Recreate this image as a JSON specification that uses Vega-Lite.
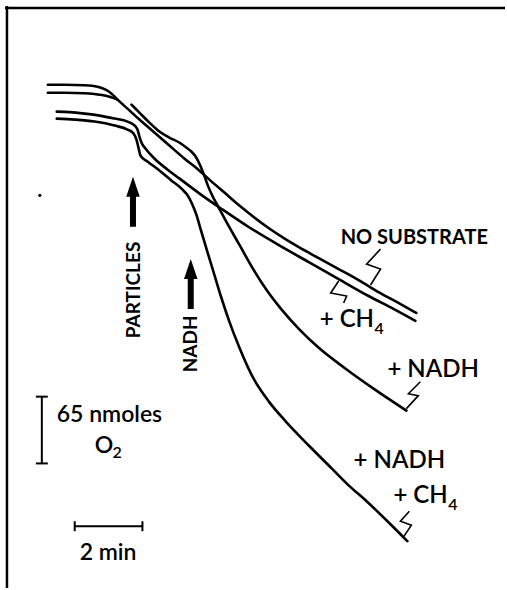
{
  "$schema": "https://vega.github.io/schema/vega-lite/v6.json",
  "width": 507,
  "height": 590,
  "autosize": {"type": "fit", "contains": "padding"},
  "padding": 0,
  "background": "white",
  "config": {"view": {"stroke": null}},
  "datasets": {
    "traces": [
      {"s": "ns", "i": 1, "x": 48, "y": 85}, {"s": "ns", "i": 2, "x": 65, "y": 85}, {"s": "ns", "i": 3, "x": 85, "y": 85.5}, {"s": "ns", "i": 4, "x": 98, "y": 87}, {"s": "ns", "i": 5, "x": 106, "y": 90}, {"s": "ns", "i": 6, "x": 112, "y": 94}, {"s": "ns", "i": 7, "x": 118, "y": 100}, {"s": "ns", "i": 8, "x": 128, "y": 109}, {"s": "ns", "i": 9, "x": 140, "y": 120}, {"s": "ns", "i": 10, "x": 155, "y": 133}, {"s": "ns", "i": 11, "x": 170, "y": 146}, {"s": "ns", "i": 12, "x": 185, "y": 159}, {"s": "ns", "i": 13, "x": 200, "y": 171}, {"s": "ns", "i": 14, "x": 210, "y": 180}, {"s": "ns", "i": 15, "x": 225, "y": 193}, {"s": "ns", "i": 16, "x": 240, "y": 206}, {"s": "ns", "i": 17, "x": 255, "y": 218}, {"s": "ns", "i": 18, "x": 270, "y": 229}, {"s": "ns", "i": 19, "x": 285, "y": 239}, {"s": "ns", "i": 20, "x": 300, "y": 248}, {"s": "ns", "i": 21, "x": 320, "y": 259}, {"s": "ns", "i": 22, "x": 340, "y": 270}, {"s": "ns", "i": 23, "x": 360, "y": 281}, {"s": "ns", "i": 24, "x": 380, "y": 293}, {"s": "ns", "i": 25, "x": 400, "y": 304}, {"s": "ns", "i": 26, "x": 418, "y": 314},
      {"s": "top2", "i": 1, "x": 48, "y": 93}, {"s": "top2", "i": 2, "x": 65, "y": 93}, {"s": "top2", "i": 3, "x": 85, "y": 93.5}, {"s": "top2", "i": 4, "x": 100, "y": 95}, {"s": "top2", "i": 5, "x": 110, "y": 97}, {"s": "top2", "i": 6, "x": 118, "y": 100},
      {"s": "nadh", "i": 1, "x": 132, "y": 105}, {"s": "nadh", "i": 2, "x": 140, "y": 113}, {"s": "nadh", "i": 3, "x": 150, "y": 123}, {"s": "nadh", "i": 4, "x": 160, "y": 132}, {"s": "nadh", "i": 5, "x": 170, "y": 138}, {"s": "nadh", "i": 6, "x": 180, "y": 143}, {"s": "nadh", "i": 7, "x": 187, "y": 148}, {"s": "nadh", "i": 8, "x": 192, "y": 152}, {"s": "nadh", "i": 9, "x": 197, "y": 158}, {"s": "nadh", "i": 10, "x": 201, "y": 166}, {"s": "nadh", "i": 11, "x": 205, "y": 176}, {"s": "nadh", "i": 12, "x": 209, "y": 187}, {"s": "nadh", "i": 13, "x": 214, "y": 198}, {"s": "nadh", "i": 14, "x": 220, "y": 209}, {"s": "nadh", "i": 15, "x": 228, "y": 224}, {"s": "nadh", "i": 16, "x": 240, "y": 245}, {"s": "nadh", "i": 17, "x": 253, "y": 268}, {"s": "nadh", "i": 18, "x": 267, "y": 290}, {"s": "nadh", "i": 19, "x": 283, "y": 311}, {"s": "nadh", "i": 20, "x": 300, "y": 330}, {"s": "nadh", "i": 21, "x": 320, "y": 349}, {"s": "nadh", "i": 22, "x": 347, "y": 370}, {"s": "nadh", "i": 23, "x": 375, "y": 390}, {"s": "nadh", "i": 24, "x": 408, "y": 412},
      {"s": "ch4", "i": 1, "x": 57, "y": 112}, {"s": "ch4", "i": 2, "x": 70, "y": 112.5}, {"s": "ch4", "i": 3, "x": 85, "y": 114}, {"s": "ch4", "i": 4, "x": 100, "y": 116}, {"s": "ch4", "i": 5, "x": 115, "y": 119}, {"s": "ch4", "i": 6, "x": 128, "y": 122}, {"s": "ch4", "i": 7, "x": 134, "y": 125}, {"s": "ch4", "i": 8, "x": 138, "y": 130}, {"s": "ch4", "i": 9, "x": 140, "y": 137}, {"s": "ch4", "i": 10, "x": 142, "y": 143}, {"s": "ch4", "i": 11, "x": 146, "y": 149}, {"s": "ch4", "i": 12, "x": 155, "y": 159}, {"s": "ch4", "i": 13, "x": 168, "y": 170}, {"s": "ch4", "i": 14, "x": 180, "y": 179}, {"s": "ch4", "i": 15, "x": 200, "y": 194}, {"s": "ch4", "i": 16, "x": 223, "y": 210}, {"s": "ch4", "i": 17, "x": 250, "y": 228}, {"s": "ch4", "i": 18, "x": 280, "y": 246}, {"s": "ch4", "i": 19, "x": 310, "y": 263}, {"s": "ch4", "i": 20, "x": 340, "y": 280}, {"s": "ch4", "i": 21, "x": 370, "y": 297}, {"s": "ch4", "i": 22, "x": 395, "y": 310}, {"s": "ch4", "i": 23, "x": 417, "y": 322},
      {"s": "nadhch4", "i": 1, "x": 57, "y": 119}, {"s": "nadhch4", "i": 2, "x": 75, "y": 120}, {"s": "nadhch4", "i": 3, "x": 95, "y": 122}, {"s": "nadhch4", "i": 4, "x": 115, "y": 126}, {"s": "nadhch4", "i": 5, "x": 128, "y": 130}, {"s": "nadhch4", "i": 6, "x": 134, "y": 134}, {"s": "nadhch4", "i": 7, "x": 137, "y": 140}, {"s": "nadhch4", "i": 8, "x": 139, "y": 148}, {"s": "nadhch4", "i": 9, "x": 141, "y": 156}, {"s": "nadhch4", "i": 10, "x": 148, "y": 162}, {"s": "nadhch4", "i": 11, "x": 160, "y": 171}, {"s": "nadhch4", "i": 12, "x": 172, "y": 181}, {"s": "nadhch4", "i": 13, "x": 183, "y": 190}, {"s": "nadhch4", "i": 14, "x": 189, "y": 197}, {"s": "nadhch4", "i": 15, "x": 193, "y": 205}, {"s": "nadhch4", "i": 16, "x": 197, "y": 215}, {"s": "nadhch4", "i": 17, "x": 202, "y": 232}, {"s": "nadhch4", "i": 18, "x": 208, "y": 252}, {"s": "nadhch4", "i": 19, "x": 215, "y": 275}, {"s": "nadhch4", "i": 20, "x": 222, "y": 298}, {"s": "nadhch4", "i": 21, "x": 230, "y": 322}, {"s": "nadhch4", "i": 22, "x": 240, "y": 348}, {"s": "nadhch4", "i": 23, "x": 253, "y": 377}, {"s": "nadhch4", "i": 24, "x": 270, "y": 403}, {"s": "nadhch4", "i": 25, "x": 287, "y": 423}, {"s": "nadhch4", "i": 26, "x": 310, "y": 447}, {"s": "nadhch4", "i": 27, "x": 333, "y": 470}, {"s": "nadhch4", "i": 28, "x": 350, "y": 487}, {"s": "nadhch4", "i": 29, "x": 367, "y": 502}, {"s": "nadhch4", "i": 30, "x": 390, "y": 524}, {"s": "nadhch4", "i": 31, "x": 409, "y": 543}
    ],
    "leaders": [
      {"s": "ns", "i": 1, "x": 382, "y": 250}, {"s": "ns", "i": 2, "x": 368, "y": 265}, {"s": "ns", "i": 3, "x": 382, "y": 270}, {"s": "ns", "i": 4, "x": 372, "y": 286},
      {"s": "ch4", "i": 1, "x": 340, "y": 282}, {"s": "ch4", "i": 2, "x": 332, "y": 294}, {"s": "ch4", "i": 3, "x": 348, "y": 297}, {"s": "ch4", "i": 4, "x": 345, "y": 304},
      {"s": "nadh", "i": 1, "x": 422, "y": 383}, {"s": "nadh", "i": 2, "x": 410, "y": 395}, {"s": "nadh", "i": 3, "x": 420, "y": 397}, {"s": "nadh", "i": 4, "x": 408, "y": 410},
      {"s": "nadhch4", "i": 1, "x": 411, "y": 513}, {"s": "nadhch4", "i": 2, "x": 402, "y": 523}, {"s": "nadhch4", "i": 3, "x": 413, "y": 527}, {"s": "nadhch4", "i": 4, "x": 405, "y": 539}
    ],
    "rules": [
      {"x": 7, "y": 6, "x2": 7, "y2": 590},
      {"x": 5, "y": 8, "x2": 507, "y2": 8}
    ],
    "bars": [
      {"x": 42, "y": 398, "x2": 42, "y2": 465},
      {"x": 36, "y": 398, "x2": 48, "y2": 398},
      {"x": 36, "y": 465, "x2": 48, "y2": 465},
      {"x": 75, "y": 528, "x2": 143, "y2": 528},
      {"x": 75, "y": 523, "x2": 75, "y2": 533},
      {"x": 143, "y": 523, "x2": 143, "y2": 533}
    ],
    "arrows": [
      {"label": "PARTICLES", "x": 133.5, "y": 202.5},
      {"label": "NADH", "x": 191.5, "y": 285}
    ],
    "labels": [
      {"label": "+ CH", "x": 321, "y": 328},
      {"label": "+ NADH", "x": 389, "y": 378},
      {"label": "+ NADH", "x": 355, "y": 470},
      {"label": "+ CH", "x": 395, "y": 505}
    ],
    "subscripts": [
      {"label": "4", "x": 376, "y": 335},
      {"label": "4", "x": 450, "y": 512},
      {"label": "2", "x": 113, "y": 460}
    ],
    "scalelabels": [
      {"label": "65  nmoles", "x": 57, "y": 423},
      {"label": "O", "x": 95, "y": 455},
      {"label": "2  min", "x": 80, "y": 562}
    ],
    "title": [
      {"label": "NO   SUBSTRATE", "x": 342, "y": 245}
    ],
    "vertical": [
      {"label": "PARTICLES", "x": 134.5, "y": 291},
      {"label": "NADH", "x": 191.5, "y": 345}
    ],
    "specks": [
      {"x": 40, "y": 196}
    ]
  },
  "encoding": {
    "x": {"field": "x", "type": "quantitative", "scale": {"domain": [0, 507], "nice": false, "zero": false}, "axis": null},
    "y": {"field": "y", "type": "quantitative", "scale": {"domain": [0, 590], "nice": false, "zero": false, "reverse": true}, "axis": null}
  },
  "layer": [
    {
      "data": {"name": "rules"},
      "mark": {"type": "rule", "color": "black", "strokeWidth": 2.5},
      "encoding": {"x2": {"field": "x2"}, "y2": {"field": "y2"}}
    },
    {
      "data": {"name": "bars"},
      "mark": {"type": "rule", "color": "black", "strokeWidth": 2},
      "encoding": {"x2": {"field": "x2"}, "y2": {"field": "y2"}}
    },
    {
      "data": {"name": "traces"},
      "mark": {"type": "line", "color": "black", "strokeWidth": 2.6, "interpolate": "monotone", "strokeCap": "round"},
      "encoding": {"detail": {"field": "s"}, "order": {"field": "i"}}
    },
    {
      "data": {"name": "leaders"},
      "mark": {"type": "line", "color": "black", "strokeWidth": 1.6},
      "encoding": {"detail": {"field": "s"}, "order": {"field": "i"}}
    },
    {
      "data": {"name": "arrows"},
      "mark": {"type": "point", "shape": "M0,-1L0.27,-0.2L0.12,-0.2L0.12,1L-0.12,1L-0.12,-0.2L-0.27,-0.2Z", "size": 2500, "filled": true, "color": "black", "opacity": 1, "strokeWidth": 0}
    },
    {
      "data": {"name": "specks"},
      "mark": {"type": "point", "shape": "circle", "size": 10, "filled": true, "color": "black", "opacity": 1}
    },
    {
      "data": {"name": "labels"},
      "mark": {"type": "text", "font": "Lato", "fontSize": 24, "fontWeight": 600, "align": "left", "baseline": "alphabetic", "color": "black"},
      "encoding": {"text": {"field": "label"}}
    },
    {
      "data": {"name": "subscripts"},
      "mark": {"type": "text", "font": "Lato", "fontSize": 16, "fontWeight": 600, "align": "left", "baseline": "alphabetic", "color": "black"},
      "encoding": {"text": {"field": "label"}}
    },
    {
      "data": {"name": "scalelabels"},
      "mark": {"type": "text", "font": "Lato", "fontSize": 23, "fontWeight": 600, "align": "left", "baseline": "alphabetic", "color": "black"},
      "encoding": {"text": {"field": "label"}}
    },
    {
      "data": {"name": "title"},
      "mark": {"type": "text", "font": "Lato", "fontSize": 20, "fontWeight": "bold", "align": "left", "baseline": "alphabetic", "color": "black"},
      "encoding": {"text": {"field": "label"}}
    },
    {
      "data": {"name": "vertical"},
      "mark": {"type": "text", "font": "Lato", "fontSize": 19, "fontWeight": "bold", "align": "center", "baseline": "middle", "angle": 270, "color": "black"},
      "encoding": {"text": {"field": "label"}}
    }
  ]
}
